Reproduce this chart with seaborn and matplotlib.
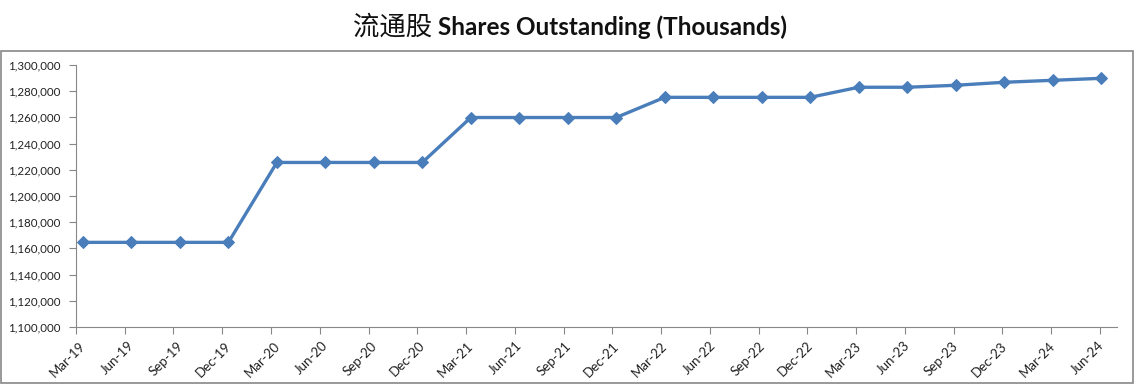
import numpy as np
import pandas as pd
import matplotlib
matplotlib.use("Agg")
import matplotlib.pyplot as plt
import matplotlib.ticker as mticker
import matplotlib.transforms as mtrans
from matplotlib.patches import Rectangle
import seaborn as sns

quarters = ["Mar-19", "Jun-19", "Sep-19", "Dec-19", "Mar-20", "Jun-20", "Sep-20", "Dec-20",
            "Mar-21", "Jun-21", "Sep-21", "Dec-21", "Mar-22", "Jun-22", "Sep-22", "Dec-22",
            "Mar-23", "Jun-23", "Sep-23", "Dec-23", "Mar-24", "Jun-24"]
shares = [1164600, 1164600, 1164600, 1164600, 1225600, 1225600, 1225600, 1225600,
          1259900, 1259900, 1259900, 1259900, 1275300, 1275300, 1275300, 1275300,
          1283000, 1283000, 1284500, 1286800, 1288300, 1289800]
y_ticks = [1100000, 1120000, 1140000, 1160000, 1180000, 1200000, 1220000,
           1240000, 1260000, 1280000, 1300000]
title_cjk = "流通股"
title_en = "Shares Outstanding (Thousands)"

df = pd.DataFrame({"idx": np.arange(len(quarters)), "quarter": quarters, "shares": shares})

sns.set_theme(style="white")
plt.rcParams["font.family"] = ["Lato", "Noto Sans CJK SC", "DejaVu Sans"]

fig = plt.figure(figsize=(11.39, 3.91), dpi=100)
ax = fig.add_axes([0.0667, 0.1637, 0.9807 - 0.0667, 0.8338 - 0.1637])

sns.lineplot(data=df, x="idx", y="shares", ax=ax, color="#4A7EBB", linewidth=2.4,
             marker="D", markersize=6.5, markeredgecolor="#4A7EBB")

ax.set_ylim(y_ticks[0], y_ticks[-1])
ax.set_xlim(-0.144, len(quarters) - 1 + 0.33)
ax.set_yticks(y_ticks)
ax.yaxis.set_major_formatter(mticker.FuncFormatter(lambda v, p: f"{int(v):,}"))
ax.set_xticks(df["idx"])
ax.set_xticklabels(quarters, rotation=45, ha="right", rotation_mode="default")
ax.set_xticks([k * 1.0058 - 0.144 for k in range(len(quarters))], minor=True)
ax.tick_params(axis="x", which="major", length=0, pad=9, labelsize=9.5, colors="#222222")
ax.tick_params(axis="x", which="minor", length=5, width=0.8, color="#888888", direction="out", bottom=True)
ax.tick_params(axis="y", length=5, width=0.8, color="#888888", direction="out", left=True,
               pad=6, labelsize=8.3, labelcolor="#222222")
shift = mtrans.ScaledTranslation(5 / 100, 0, fig.dpi_scale_trans)
for lbl in ax.get_xticklabels():
    lbl.set_transform(lbl.get_transform() + shift)
ax.set_xlabel("")
ax.set_ylabel("")
for s in ["top", "right"]:
    ax.spines[s].set_visible(False)
for s in ["left", "bottom"]:
    ax.spines[s].set_color("#888888")
    ax.spines[s].set_linewidth(0.8)
ax.grid(False)

fig.patches.append(Rectangle((0.001, 0.0205), 0.9945 - 0.001, 0.8696 - 0.0205,
                             transform=fig.transFigure, fill=False, edgecolor="#888888",
                             linewidth=1.2))

t1 = fig.text(0.5, 0.931, title_cjk + " ", ha="left", va="center", fontsize=19,
              family=["Noto Sans CJK SC", "DejaVu Sans"], color="#111111")
t2 = fig.text(0.5, 0.931, title_en, ha="left", va="center",
              fontsize=17.5, fontweight="bold", color="#111111")
fig.canvas.draw()
r = fig.canvas.get_renderer()
w1 = t1.get_window_extent(r).width
w2 = t2.get_window_extent(r).width
W = fig.bbox.width
start = 570 - (w1 + w2) / 2
t1.set_x(start / W)
t2.set_x((start + w1) / W)

fig.savefig("out.png", dpi=100)
